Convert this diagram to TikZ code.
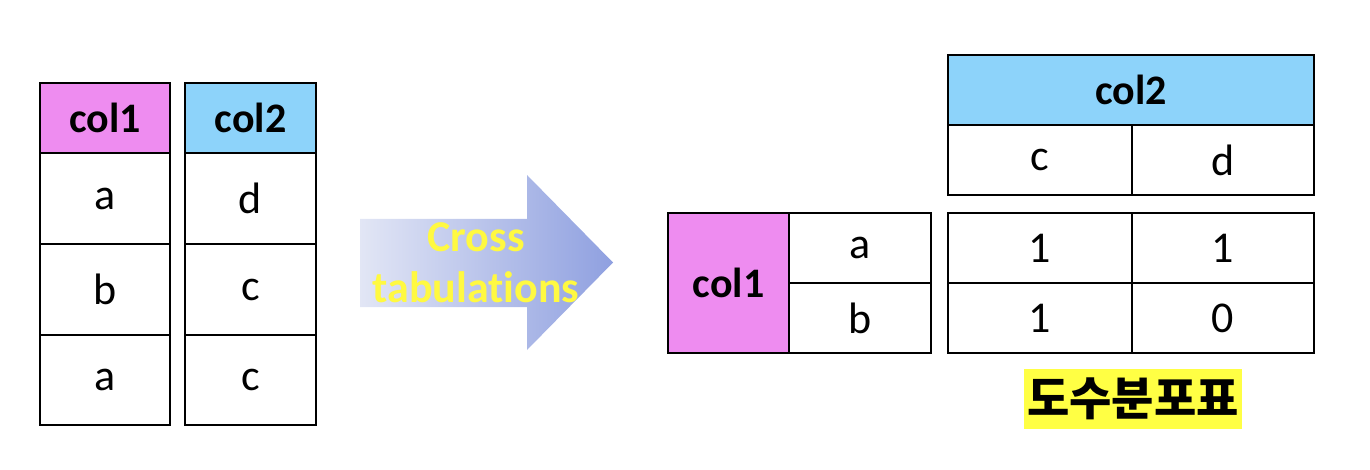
\documentclass[tikz,border=0pt]{standalone}
\usepackage{fontspec}
\setmainfont{Carlito}[Ligatures=NoCommon]
\newfontfamily\krfont{Noto Sans CJK KR}
\usepackage{tikz}
\usetikzlibrary{positioning, calc}
\definecolor{myPink}{RGB}{238,140,240}
\definecolor{myBlue}{RGB}{141,211,250}
\definecolor{myYellow}{RGB}{255,255,68}
\definecolor{arrowL}{RGB}{226,230,245}
\definecolor{arrowR}{RGB}{143,160,224}

\begin{document}
\begin{tikzpicture}[
  x=1pt, y=-1pt,
  cell/.style={draw, line width=2pt, inner sep=0pt, minimum width=#1,
    font=\fontsize{44}{50}\selectfont},
  cell/.default=130pt,
  head/.style={cell=#1, font=\fontsize{42}{50}\selectfont\bfseries},
  head/.default=130pt,
]
  \useasboundingbox (0,0) rectangle (1370,470);
  % raw data
  \node[head, fill=myPink, minimum height=70pt] (h1) at (105,118) {col1};
  \node[cell, minimum height=91pt] (a1) at (105,198.5) {a};
  \node[cell, minimum height=91pt] (b1) at (105,289.5) {b};
  \node[cell, minimum height=90pt] (a2) at (105,380) {a};
  \node[head=131pt, fill=myBlue, minimum height=70pt] (h2) at (250.5,118) {col2};
  \node[cell=131pt, minimum height=91pt] (d1) at (250.5,198.5) {d};
  \node[cell=131pt, minimum height=91pt] (c1) at (250.5,289.5) {c};
  \node[cell=131pt, minimum height=90pt] (c2) at (250.5,380) {c};
  % arrow
  \shade[left color=arrowL, right color=arrowR]
    (360,219) -- (527,219) -- (527,175) -- (613,262.5) -- (527,350)
    -- (527,307) -- (360,307) -- cycle;
  \node[align=center, text=myYellow!95!orange, inner sep=0pt,
    font=\fontsize{44}{51}\selectfont\bfseries] (ct) at (476,263)
    {Cross\\tabulations};
  % frequency table
  \node[head=366pt, fill=myBlue, minimum height=70pt] (hc2) at (1131,90) {col2};
  \node[cell=184pt, minimum height=70pt] (cc) at (1040,160) {c};
  \node[cell=182pt, minimum height=70pt] (cd) at (1223,160) {d};
  \node[head=121pt, fill=myPink, minimum height=140pt] (hc1) at (728.5,283) {col1};
  \node[cell=142pt, minimum height=70pt] (ra) at (860,248) {a};
  \node[cell=142pt, minimum height=70pt] (rb) at (860,318) {b};
  \node[cell=184pt, minimum height=70pt] (n11) at (1040,248) {1};
  \node[cell=182pt, minimum height=70pt] (n12) at (1223,248) {1};
  \node[cell=184pt, minimum height=70pt] (n21) at (1040,318) {1};
  \node[cell=182pt, minimum height=70pt] (n22) at (1223,318) {0};
  \node[fill=myYellow, minimum width=218pt, minimum height=60pt, inner sep=0pt,
    font=\krfont\fontsize{46}{50}\selectfont\bfseries] (lbl) at (1133,399) {도수분포표};
\end{tikzpicture}
\end{document}
